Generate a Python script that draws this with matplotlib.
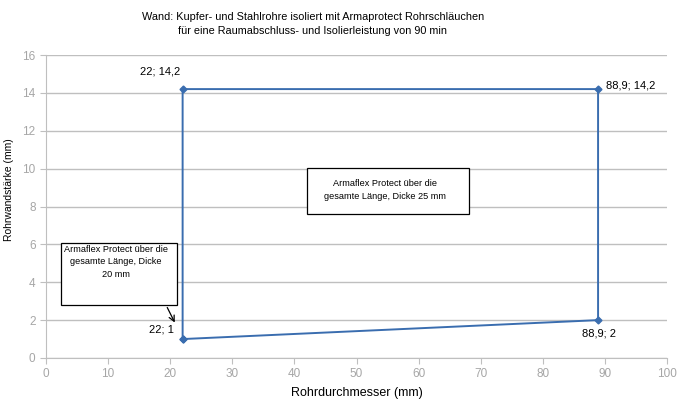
import matplotlib.pyplot as plt

x_vals = [22, 22, 88.9, 88.9, 22]
y_vals = [1, 14.2, 14.2, 2, 1]
point_labels = ["22; 1", "22; 14,2", "88,9; 14,2", "88,9; 2"]

title = ("Wand: Kupfer- und Stahlrohre isoliert mit Armaprotect Rohrschläuchen\n"
         "für eine Raumabschluss- und Isolierleistung von 90 min")
note_25 = "Armaflex Protect über die\ngesamte Länge, Dicke 25 mm"
note_20 = "Armaflex Protect über die\ngesamte Länge, Dicke\n20 mm"

plt.rcParams["font.family"] = ["Liberation Sans", "DejaVu Sans"]

W, H = 678, 405
fig = plt.figure(figsize=(W / 100, H / 100), dpi=100)
ax = fig.add_axes([46 / W, 1 - 358 / H, (667 - 46) / W, (358 - 55) / H])

gray = "#BFBFBF"
blue = "#3A6DAF"

ax.set_xlim(0, 100)
ax.set_ylim(0, 16)
ax.set_xticks(range(0, 101, 10))
ax.set_yticks(range(0, 17, 2))
ax.grid(axis="y", color=gray, linewidth=1)
ax.set_axisbelow(True)
for s in ["top", "right"]:
    ax.spines[s].set_visible(False)
for s in ["left", "bottom"]:
    ax.spines[s].set_color(gray)
ax.tick_params(colors=gray, labelcolor="#A6A6A6", labelsize=8.5, length=4,
               direction="out")

ax.plot(x_vals, y_vals, color=blue, linewidth=1.4, marker="D", markersize=3.5,
        clip_on=False)

def px(x, y):
    return ((x - 46) / (667 - 46) * 100, (358 - y) / (358 - 55) * 16)

ax.text(*px(161, 330), point_labels[0], fontsize=8, ha="center", va="center")
ax.text(*px(160, 72), point_labels[1], fontsize=8, ha="center", va="center")
ax.text(*px(606, 85), point_labels[2], fontsize=8, ha="left", va="center")
ax.text(*px(599, 333), point_labels[3], fontsize=8, ha="center", va="center")

# text boxes
for (x0, y0, x1, y1) in [(307, 168, 469, 214), (61, 243, 177, 305)]:
    bx0, by1 = px(x0, y0)
    bx1, by0 = px(x1, y1)
    ax.add_patch(plt.Rectangle((bx0, by0), bx1 - bx0, by1 - by0, fill=True,
                               facecolor="white", edgecolor="black", linewidth=0.9,
                               zorder=3))
ax.text(*px(385, 190), note_25, fontsize=6.6, ha="center", va="center",
        linespacing=1.45, zorder=4)
ax.text(*px(116, 262), note_20, fontsize=6.6, ha="center", va="center",
        linespacing=1.45, zorder=4)
ax.annotate("", xy=px(176, 325), xytext=px(166, 305),
            arrowprops=dict(arrowstyle="->", color="black", lw=0.9))

fig.text(313 / W, 1 - 24 / H, title, fontsize=7.8, ha="center", va="center",
         linespacing=1.45)
ax.set_xlabel("Rohrdurchmesser (mm)", fontsize=9, labelpad=5)
ax.set_ylabel("Rohrwandstärke (mm)", fontsize=7.5)
ax.yaxis.set_label_coords(-(46 - 14) / (667 - 46), (358 - 190) / (358 - 55))

fig.savefig("out.png", dpi=100)
